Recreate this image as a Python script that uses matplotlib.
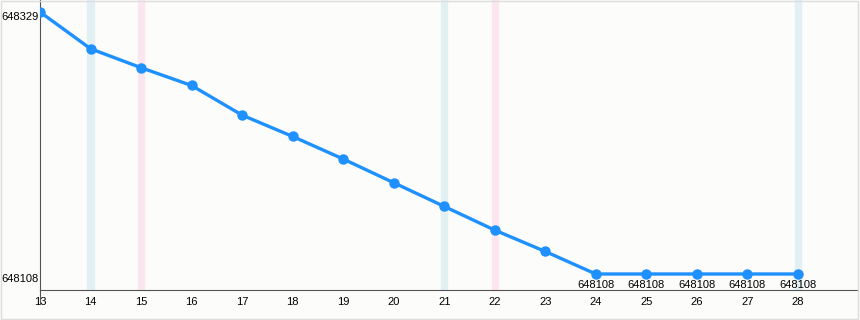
import matplotlib.pyplot as plt
from matplotlib.patches import Rectangle
from matplotlib.lines import Line2D

plt.rcParams['font.family'] = ['Liberation Sans', 'DejaVu Sans']

# данные
days = [13, 14, 15, 16, 17, 18, 19, 20, 21, 22, 23, 24, 25, 26, 27, 28]
values = [648329, 648298, 648282, 648267, 648242, 648224, 648205, 648185,
          648165, 648145, 648127, 648108, 648108, 648108, 648108, 648108]
blue_days = [14, 21, 28]
pink_days = [15, 22]
labeled_days = [24, 25, 26, 27, 28]

fig = plt.figure(figsize=(8.6, 3.2), dpi=100)
fig.patch.set_facecolor('#fcfdfa')
ax = fig.add_axes([40 / 860, 30 / 320, 818 / 860, 290 / 320])
ax.set_facecolor('#fcfdfa')

# полосы
for d in blue_days:
    ax.axvspan(d - 0.06, d + 0.06, color='#e2f0f4', zorder=0)
for d in pink_days:
    ax.axvspan(d - 0.06, d + 0.06, color='#fbe6f0', zorder=0)

ax.plot(days, values, color='#1e90ff', lw=2.4, marker='o', ms=6.5, zorder=3)

for d, v in zip(days, values):
    if d in labeled_days:
        ax.annotate(str(v), (d, v), xytext=(0, -4), textcoords='offset points',
                    ha='center', va='top', fontsize=8)

ax.set_xlim(13, 29.19)
ax.set_ylim(648094.5, 648339.1)
ax.set_xticks(days)
ax.set_xticklabels([str(d) for d in days])
for lbl in ax.get_xticklabels():
    lbl.set_x(lbl.get_position()[0])
ax.set_yticks([648108, 648329])
ax.set_yticklabels(['648108', '648329'], va='top')
ax.tick_params(axis='x', length=0, labelsize=8, pad=5)
ax.tick_params(axis='y', length=0, labelsize=8, pad=1)

for s in ['top', 'right']:
    ax.spines[s].set_visible(False)
ax.spines['left'].set_color('#555555')
ax.spines['bottom'].set_color('#555555')
ax.spines['left'].set_linewidth(0.8)
ax.spines['bottom'].set_linewidth(0.8)

# продолжение левой оси вниз
ax.add_line(Line2D([0, 0], [-0.048, 0], transform=ax.transAxes, color='#555555',
                   lw=0.8, clip_on=False))

# рамка
fig.patches.append(Rectangle((0.001, 0.003), 0.997, 0.995, transform=fig.transFigure,
                             fill=False, ec='#dddddd', lw=1))

fig.savefig('out.png', dpi=100, facecolor=fig.get_facecolor())
